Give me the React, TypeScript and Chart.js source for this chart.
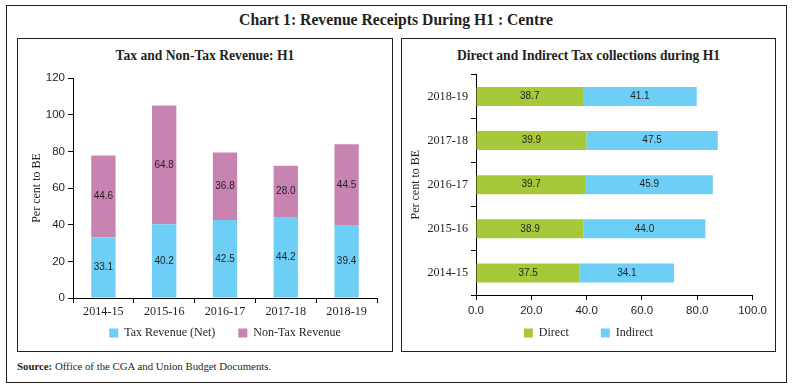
import React, { useEffect, useRef } from "react";
import { Chart, registerables } from "chart.js";

Chart.register(...registerables);

// ---- data ----
const revenueYears = ["2014-15", "2015-16", "2016-17", "2017-18", "2018-19"];
const taxRevenueNet = [33.1, 40.2, 42.5, 44.2, 39.4];
const nonTaxRevenue = [44.6, 64.8, 36.8, 28.0, 44.5];

const taxYears = ["2014-15", "2015-16", "2016-17", "2017-18", "2018-19"];
const directTax = [37.5, 38.9, 39.7, 39.9, 38.7];
const indirectTax = [34.1, 44.0, 45.9, 47.5, 41.1];

// ---- style ----
const SERIF = '"Liberation Serif", "Times New Roman", serif';
const SANS = '"Liberation Sans", Arial, sans-serif';
const INK = "#231f20";
const CYAN = "#6dcff6";
const PINK = "#c884b1";
const GREEN = "#a6c93a";

const valueLabels = {
  id: "valueLabels",
  afterDatasetsDraw(chart: any) {
    const ctx = chart.ctx;
    ctx.save();
    ctx.font = `10px ${SANS}`;
    ctx.fillStyle = INK;
    ctx.textAlign = "center";
    ctx.textBaseline = "middle";
    chart.data.datasets.forEach((ds: any, i: number) => {
      const meta = chart.getDatasetMeta(i);
      meta.data.forEach((el: any, j: number) => {
        const p = el.getCenterPoint();
        ctx.fillText(Number(ds.data[j]).toFixed(1), p.x, p.y);
      });
    });
    ctx.restore();
  },
};

// the x-axis box is kept thin so the legend can sit close; widen its label clip area after layout
const extendLabelArea = {
  id: "extendLabelArea",
  afterLayout(chart: any) {
    const s = chart.scales.x;
    if (s) s.bottom = chart.height;
  },
};

const border = { display: true, color: "#000", width: 1 };
const tickGrid = { display: true, drawOnChartArea: false, drawTicks: true, tickLength: 5, color: "#000", lineWidth: 1 };

export default function App() {
  const leftRef = useRef<HTMLCanvasElement>(null);
  const rightRef = useRef<HTMLCanvasElement>(null);

  useEffect(() => {
    const left = new Chart(leftRef.current as HTMLCanvasElement, {
      type: "bar",
      data: {
        labels: revenueYears,
        datasets: [
          { label: "Tax Revenue (Net)", data: taxRevenueNet, backgroundColor: CYAN, barPercentage: 0.4, categoryPercentage: 1 },
          { label: "Non-Tax Revenue", data: nonTaxRevenue, backgroundColor: PINK, barPercentage: 0.4, categoryPercentage: 1 },
        ],
      },
      options: {
        responsive: false,
        animation: false,
        layout: { padding: { left: 0, right: 15, top: 14, bottom: 0 } },
        plugins: {
          legend: {
            position: "bottom",
            fullSize: false,
            labels: { boxWidth: 9, boxHeight: 9, padding: 23, color: INK, font: { family: SERIF, size: 12 } },
          },
          tooltip: { enabled: false },
        },
        scales: {
          x: {
            stacked: true,
            grid: { ...tickGrid, offset: true },
            border,
            ticks: { color: INK, font: { family: SERIF, size: 12.2 }, padding: 1, maxRotation: 0, autoSkip: false },
            afterFit(s: any) { s.height = 6; },
          },
          y: {
            stacked: true,
            min: 0,
            max: 120,
            grid: tickGrid,
            border,
            ticks: { stepSize: 20, color: INK, font: { family: SANS, size: 11.5 }, padding: 3 },
            title: { display: true, text: "Per cent to BE", color: INK, font: { family: SERIF, size: 12 }, padding: { top: 12.8, bottom: 0 } },
            afterFit(s: any) { s.width = 56; },
          },
        },
      } as any,
      plugins: [valueLabels, extendLabelArea],
    });

    const right = new Chart(rightRef.current as HTMLCanvasElement, {
      type: "bar",
      data: {
        labels: taxYears,
        datasets: [
          { label: "Direct", data: directTax, backgroundColor: GREEN, barPercentage: 0.43, categoryPercentage: 1 },
          { label: "Indirect", data: indirectTax, backgroundColor: CYAN, barPercentage: 0.43, categoryPercentage: 1 },
        ],
      },
      options: {
        indexAxis: "y",
        responsive: false,
        animation: false,
        layout: { padding: { left: 19, right: 18, top: 8, bottom: 0 } },
        plugins: {
          legend: {
            position: "bottom",
            fullSize: true,
            labels: { boxWidth: 9, boxHeight: 9, padding: 32, color: INK, font: { family: SERIF, size: 12 } },
          },
          tooltip: { enabled: false },
        },
        scales: {
          x: {
            stacked: true,
            min: 0,
            max: 100,
            grid: tickGrid,
            border,
            ticks: { stepSize: 20, color: INK, font: { family: SANS, size: 11.5 }, padding: 4, callback: (v: any) => Number(v).toFixed(1) },
            afterFit(s: any) { s.height = 0; },
          },
          y: {
            stacked: true,
            reverse: true,
            grid: { ...tickGrid, offset: true },
            border,
            ticks: { color: INK, font: { family: SERIF, size: 12.2 }, padding: 3 },
            title: { display: true, text: "Per cent to BE", color: INK, font: { family: SERIF, size: 12 }, padding: { top: -15.2, bottom: 0 } },
            afterFit(s: any) { s.width = 52; },
          },
        },
      } as any,
      plugins: [valueLabels, extendLabelArea],
    });

    return () => {
      left.destroy();
      right.destroy();
    };
  }, []);

  const abs = (l: number, t: number, w: number, h: number): React.CSSProperties => ({
    position: "absolute", left: l, top: t, width: w, height: h, boxSizing: "border-box",
  });

  return (
    <div style={{ position: "absolute", left: 0, top: 0, width: 792, height: 389, background: "#fff", fontFamily: SERIF, color: INK }}>
      <div style={{ ...abs(6, 5, 781, 378), border: "1px solid #231f20" }} />
      <div style={{ position: "absolute", left: 0, top: 10, width: 792, textAlign: "center", fontWeight: "bold", fontSize: 15.7, lineHeight: "19px" }}>
        Chart 1: Revenue Receipts During H1 : Centre
      </div>
      <div style={{ ...abs(17, 38, 376, 314), border: "1px solid #231f20" }} />
      <div style={{ ...abs(401, 38, 375, 314), border: "1px solid #231f20" }} />
      <div style={{ position: "absolute", left: 17, top: 48, width: 376, textAlign: "center", fontWeight: "bold", fontSize: 13.6, lineHeight: "16px" }}>
        Tax and Non-Tax Revenue: H1
      </div>
      <div style={{ position: "absolute", left: 401, top: 48, width: 375, textAlign: "center", fontWeight: "bold", fontSize: 13.6, lineHeight: "16px" }}>
        Direct and Indirect Tax collections during H1
      </div>
      <canvas ref={leftRef} width={375} height={285} style={{ position: "absolute", left: 17, top: 64, width: 375, height: 285 }} />
      <canvas ref={rightRef} width={366} height={285} style={{ position: "absolute", left: 405, top: 64, width: 366, height: 285 }} />
      <div style={{ position: "absolute", left: 17, top: 359, fontSize: 10.8, lineHeight: "14px" }}>
        <b>Source:</b> Office of the CGA and Union Budget Documents.
      </div>
    </div>
  );
}
